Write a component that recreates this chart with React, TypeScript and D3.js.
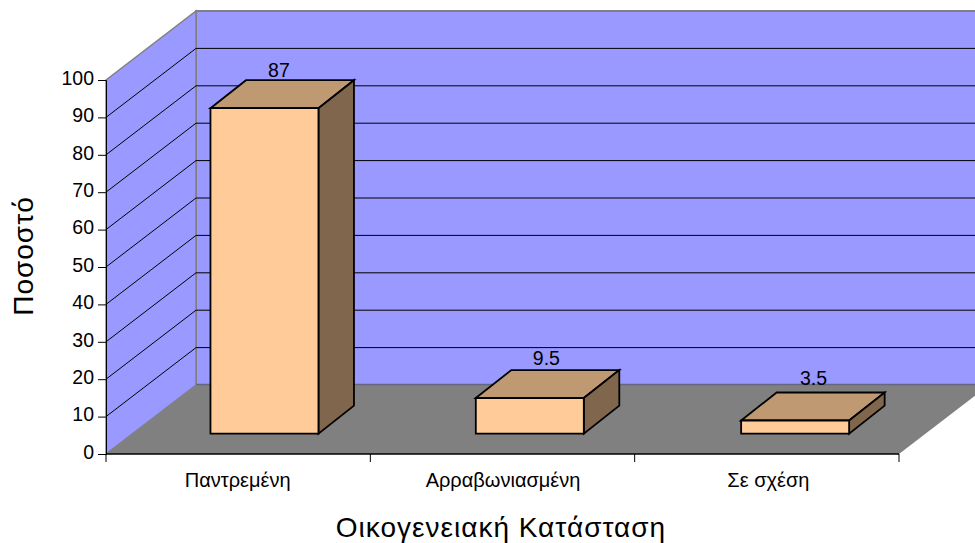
import React, { useEffect, useRef } from 'react';
import * as d3 from 'd3';

const categories = ['Παντρεμένη', 'Αρραβωνιασμένη', 'Σε σχέση'];
const values = [87, 9.5, 3.5];
const valueLabels = ['87', '9.5', '3.5'];
const yTicks = [0, 10, 20, 30, 40, 50, 60, 70, 80, 90, 100];
const xTitle = 'Οικογενειακή Κατάσταση';
const yTitle = 'Ποσοστό';

const width = 975;
const height = 543;
const font = '"Liberation Sans", Arial, sans-serif';

const App = () => {
  const ref = useRef<SVGSVGElement>(null);

  useEffect(() => {
    const svg = d3.select(ref.current);
    svg.selectAll('*').remove();

    const x = d3.scaleBand<string>().domain(categories).range([105, 901]).paddingInner(0.593).paddingOuter(0.2965);
    const y = d3.scaleLinear().domain([0, 100]).range([454, 80]);

    // depth of the whole box and of the bars
    const dx = 90, dy = -69;
    const barDx = 35.5, barDy = -28;
    const barOffX = 26.8, barOffY = -20.4;
    // the value labels don't sit exactly centred in the original
    const labelDx = [-3.3, -1.2, 0.7];
    const labelDy = [3, 5, 7.7];

    const poly = (pts: [number, number][], fill: string, stroke = 'none', sw = 1) =>
      svg.append('path')
        .attr('d', d3.line()(pts) + 'Z')
        .attr('fill', fill)
        .attr('stroke', stroke)
        .attr('stroke-width', sw)
        .attr('stroke-linejoin', 'miter');

    const x0 = 106, x1 = 899;
    const y0 = y(0), yMax = y(100);

    // back wall, side wall, floor
    poly([[x0 + dx, yMax + dy], [x1 + dx, yMax + dy], [x1 + dx, y0 + dy], [x0 + dx, y0 + dy]], '#9999ff', '#808080', 2);
    poly([[x0, yMax], [x0 + dx, yMax + dy], [x0 + dx, y0 + dy], [x0, y0]], '#9999ff', '#808080', 1.5);
    poly([[x0, y0], [x0 + dx, y0 + dy], [x1 + dx, y0 + dy], [x1, y0]], '#808080');
    svg.append('line')
      .attr('x1', x0 + dx).attr('x2', x1 + dx)
      .attr('y1', y0 + dy - 0.5).attr('y2', y0 + dy - 0.5)
      .attr('stroke', '#666680').attr('stroke-width', 1.5);

    // gridlines
    const grid = yTicks.filter(t => t > 0 && t < 100);
    svg.append('g').selectAll('path')
      .data(grid)
      .enter().append('path')
      .attr('d', d => `M${x0},${y(d)}L${x0 + dx},${y(d) + dy}L${x1 + dx},${y(d) + dy}`)
      .attr('fill', 'none')
      .attr('stroke', '#000')
      .attr('stroke-width', 1);

    // bars
    categories.forEach((c, i) => {
      const l = x(c)! + barOffX;
      const r = l + x.bandwidth();
      const b = y0 + barOffY;
      const t = b - (y0 - y(values[i]));
      poly([[l, t], [l + barDx, t + barDy], [r + barDx, t + barDy], [r, t]], '#bf9972', '#000', 1.8);
      poly([[r, t], [r + barDx, t + barDy], [r + barDx, b + barDy], [r, b]], '#80664d', '#000', 1.8);
      poly([[l, t], [r, t], [r, b], [l, b]], '#ffcc99', '#000', 1.8);
      svg.append('text')
        .attr('x', l + x.bandwidth() / 2 + barDx / 2 + labelDx[i])
        .attr('y', t + barDy - labelDy[i])
        .attr('text-anchor', 'middle')
        .attr('font-family', font)
        .attr('font-size', 19.5)
        .attr('fill', '#000')
        .text(valueLabels[i]);
    });

    // axes
    const yAxis = svg.append('g')
      .attr('transform', `translate(${x0},0)`)
      .call(d3.axisLeft(y).tickValues(yTicks).tickSize(8).tickPadding(4).tickFormat(d => String(d)));
    yAxis.select('.domain').attr('stroke', '#000').attr('stroke-width', 1);
    yAxis.selectAll('.tick line').attr('stroke', '#000');
    yAxis.selectAll('text')
      .attr('font-family', font)
      .attr('font-size', 19.5)
      .attr('dy', '0.22em')
      .attr('fill', '#000');

    const xAxisLine = d3.scaleLinear().domain([0, 3]).range([x0, x1]);
    svg.append('line')
      .attr('x1', x0).attr('x2', x1).attr('y1', y0).attr('y2', y0)
      .attr('stroke', '#000').attr('stroke-width', 1.5);
    svg.append('g').selectAll('line')
      .data([0, 1, 2, 3])
      .enter().append('line')
      .attr('x1', d => xAxisLine(d)).attr('x2', d => xAxisLine(d))
      .attr('y1', y0).attr('y2', y0 + 8)
      .attr('stroke', '#000');

    svg.append('g').selectAll('text')
      .data(categories)
      .enter().append('text')
      .attr('x', d => x(d)! + x.bandwidth() / 2)
      .attr('y', 487)
      .attr('text-anchor', 'middle')
      .attr('font-family', font)
      .attr('font-size', 20)
      .attr('fill', '#000')
      .text(d => d);

    svg.append('text')
      .attr('x', 501).attr('y', 537)
      .attr('text-anchor', 'middle')
      .attr('font-family', font)
      .attr('font-size', 28)
      .attr('letter-spacing', 1)
      .attr('fill', '#000')
      .text(xTitle);

    svg.append('text')
      .attr('transform', 'translate(33,256) rotate(-90)')
      .attr('text-anchor', 'middle')
      .attr('font-family', font)
      .attr('font-size', 28)
      .attr('letter-spacing', 1)
      .attr('fill', '#000')
      .text(yTitle);
  }, []);

  return (
    <svg
      ref={ref}
      width={width}
      height={height}
      style={{ position: 'absolute', left: 0, top: 0, background: '#fff' }}
    />
  );
};

export default App;
